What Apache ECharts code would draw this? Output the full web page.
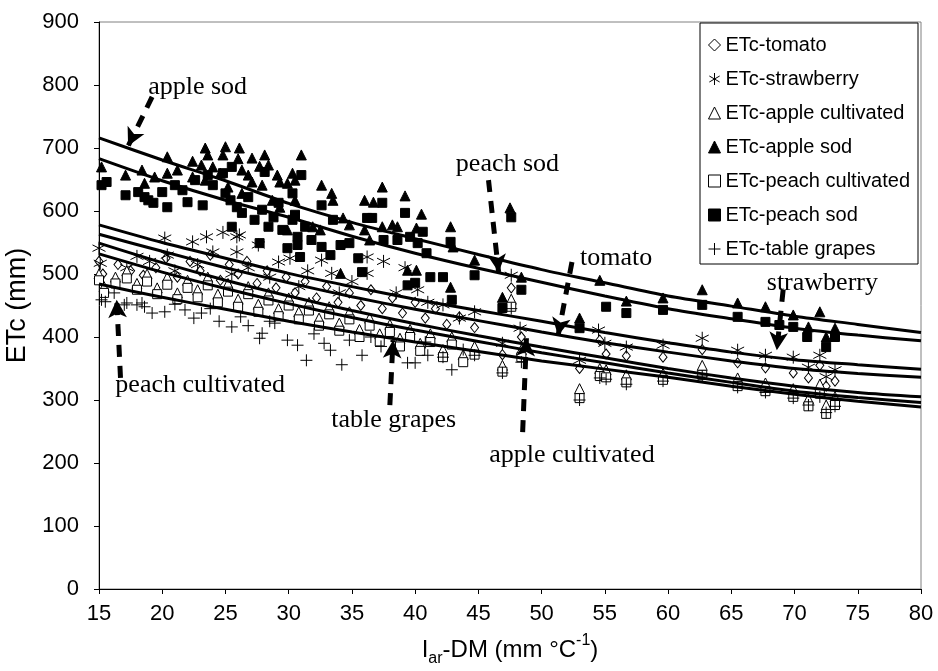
<!DOCTYPE html>
<html>
<head>
<meta charset="utf-8">
<script src="https://cdn.jsdelivr.net/npm/echarts@6/dist/echarts.min.js"></script>
<style>
  html, body { margin: 0; padding: 0; background: #fff; }
  #chart { width: 938px; height: 671px; }
</style>
</head>
<body>
<div id="chart"></div>
<script>
// measured points [I_ar-DM, ETc]
const tomato = [[15.0,520],[15.3,500],[16.5,515],[17.5,505],[18.5,498],[19.5,510],[20.3,525],[21.2,495],[22.2,520],[23.0,505],[23.8,530],[24.6,490],[25.3,515],[26.0,500],[26.7,520],[27.5,485],[28.3,505],[29.0,478],[29.8,495],[30.5,470],[31.3,488],[32.2,462],[33.0,480],[33.9,455],[34.8,470],[35.7,450],[36.5,475],[37.4,445],[38.2,462],[39.0,438],[40.0,455],[40.8,430],[41.6,445],[42.5,420],[43.5,432],[44.7,415],[46.9,372],[47.6,478],[48.4,400],[53.0,350],[54.6,395],[55.1,373],[56.7,370],[59.6,368],[62.7,380],[65.5,359],[67.7,351],[69.9,343],[71.1,335],[72.0,355],[72.5,322],[73.2,330]]
const strawberry = [[15.0,541],[15.1,517],[17.2,510],[18.0,528],[19.0,520],[20.2,557],[20.4,530],[21.0,505],[22.4,551],[22.8,515],[23.5,559],[24.0,535],[24.8,566],[25.5,500],[25.9,559],[25.9,535],[26.1,562],[26.8,510],[27.6,546],[28.5,495],[29.2,519],[30.1,525],[30.8,480],[31.5,505],[32.6,522],[33.4,501],[34.0,470],[35.0,488],[36.2,527],[36.2,501],[37.5,520],[38.5,470],[39.2,510],[40.2,475],[41.0,455],[42.2,451],[43.5,430],[44.7,440],[46.9,390],[47.6,498],[48.3,414],[53.0,363],[54.5,411],[55.0,390],[56.7,384],[59.6,387],[62.7,398],[65.5,379],[67.7,371],[69.9,368],[71.1,352],[72.0,371],[72.5,337],[73.2,348]]
const appleCultivated = [[15.0,500],[15.4,480],[16.3,495],[17.2,505],[18.0,485],[18.8,500],[19.6,478],[20.4,495],[21.2,470],[22.0,490],[22.8,475],[23.6,495],[24.4,468],[25.2,485],[26.0,460],[26.8,480],[27.6,452],[28.4,470],[29.2,445],[30.0,462],[30.8,440],[31.6,455],[32.4,430],[33.2,448],[34.0,422],[34.8,440],[35.6,412],[36.4,430],[37.2,405],[38.0,420],[38.8,398],[39.6,412],[40.4,390],[41.2,405],[42.2,380],[42.9,400],[43.8,372],[44.7,385],[46.9,355],[47.6,460],[48.4,380],[53.0,318],[54.6,350],[55.1,348],[56.7,340],[59.6,342],[62.7,355],[65.5,335],[67.7,327],[69.9,318],[71.1,302],[72.0,325],[72.5,292],[73.2,305]]
const appleSod = [[15.2,670],[17.1,657],[18.4,665],[18.6,644],[19.4,654],[20.4,686],[20.4,660],[21.2,665],[22.4,679],[22.4,654],[23.1,673],[23.4,700],[23.4,649],[23.6,689],[24.0,670],[24.6,660],[24.8,689],[25.0,702],[25.2,638],[26.0,683],[26.1,700],[26.3,665],[26.3,628],[26.8,657],[27.1,684],[27.1,646],[27.7,671],[27.9,641],[28.1,689],[28.4,673],[28.7,617],[29.1,657],[29.3,646],[29.3,606],[29.9,644],[29.9,570],[30.3,660],[30.5,649],[30.5,617],[31.0,689],[31.9,575],[32.5,570],[32.6,641],[33.4,628],[33.5,617],[34.1,501],[34.3,589],[34.8,578],[36.0,617],[36.0,570],[36.4,554],[36.7,614],[37.4,638],[37.4,575],[38.2,578],[38.6,575],[39.2,624],[39.4,506],[40.1,573],[40.1,506],[40.5,595],[42.8,575],[42.8,479],[43.0,543],[44.7,522],[46.9,463],[47.5,605],[48.4,495],[53.0,430],[54.6,490],[56.7,457],[59.6,462],[62.7,475],[65.5,454],[67.7,448],[69.9,435],[71.1,416],[72.0,440],[72.5,400],[73.2,414]]
const peachCultivated = [[15.0,490],[15.4,470],[16.3,485],[17.2,493],[18.0,475],[18.8,488],[19.6,468],[20.4,483],[21.2,460],[22.0,478],[22.8,463],[23.6,482],[24.4,455],[25.2,472],[26.0,448],[26.8,468],[27.6,440],[28.4,458],[29.2,433],[30.0,450],[30.8,428],[31.6,442],[32.4,418],[33.2,436],[34.0,410],[34.8,428],[35.6,400],[36.4,418],[37.2,393],[38.0,408],[38.8,385],[39.6,400],[40.4,378],[41.2,392],[42.2,368],[42.9,388],[43.8,360],[44.7,372],[46.9,345],[47.6,448],[48.4,368],[53.0,303],[54.6,338],[55.1,336],[56.7,328],[59.6,332],[62.7,340],[65.5,322],[67.7,314],[69.9,305],[71.1,290],[72.0,310],[72.5,278],[73.2,292]]
const peachSod = [[15.2,641],[15.6,646],[17.1,625],[18.1,630],[18.6,622],[18.9,617],[19.3,613],[20.0,630],[20.4,606],[21.0,641],[21.6,633],[22.0,614],[22.6,649],[23.2,609],[23.6,657],[24.0,641],[24.8,660],[25.0,628],[25.4,617],[25.5,670],[25.5,575],[25.9,606],[26.3,597],[26.8,622],[27.3,586],[27.7,549],[27.9,602],[28.1,662],[28.4,575],[28.8,590],[29.2,613],[29.5,570],[29.9,541],[30.3,586],[30.3,628],[30.5,594],[30.7,546],[30.7,559],[30.9,527],[31.0,657],[31.3,575],[31.8,554],[32.6,609],[32.6,543],[33.3,530],[33.5,586],[34.1,546],[34.8,549],[35.5,525],[35.8,503],[36.2,589],[36.6,589],[37.4,613],[37.5,554],[38.6,554],[39.2,597],[39.4,482],[39.6,559],[40.0,486],[40.2,549],[40.6,567],[40.9,533],[41.2,495],[42.2,495],[42.8,551],[42.9,459],[44.7,498],[46.9,446],[47.6,590],[48.4,475],[53.0,414],[55.1,448],[56.7,438],[59.6,443],[62.7,451],[65.5,432],[67.7,424],[68.8,419],[69.9,416],[71.0,400],[72.5,384],[73.2,400]]
const tableGrapes = [[15.2,459],[15.5,456],[16.2,470],[17.0,451],[17.2,454],[18.0,451],[18.4,454],[18.6,448],[19.2,438],[20.2,440],[21.0,452],[21.8,443],[22.5,430],[23.1,438],[23.8,445],[24.5,425],[25.5,416],[26.2,432],[26.8,418],[27.7,398],[27.9,406],[28.5,425],[28.9,422],[29.9,395],[30.7,387],[31.4,363],[32.0,405],[32.8,390],[33.3,379],[34.2,356],[34.8,395],[35.8,371],[36.5,400],[37.3,385],[38.2,375],[39.4,359],[40.0,359],[40.8,392],[41.0,371],[42.2,368],[42.9,348],[43.8,380],[44.7,371],[46.9,343],[47.6,445],[48.4,360],[53.0,300],[54.6,335],[55.1,333],[56.7,325],[59.6,330],[62.7,338],[65.5,320],[67.7,312],[69.9,303],[71.1,292],[72.0,305],[72.5,280],[73.2,290]]

// fitted curves read at these x values
const fitX = [15, 20, 25, 30, 35, 40, 45, 50, 55, 60, 65, 70, 75, 80]
const fitAppleSod = [716, 681, 648, 612, 582, 556, 531, 507, 486, 465, 449, 433, 420, 407]
const fitPeachSod = [683, 648, 617, 590, 560, 533, 509, 487, 465, 445, 429, 414, 403, 394]
const fitStrawberry = [578, 550, 525, 501, 480, 460, 442, 425, 407, 391, 376, 364, 356, 349]
const fitTomato = [563, 536, 510, 486, 464, 444, 426, 408, 391, 376, 362, 350, 342, 336]
const fitAppleCultivated = [549, 518, 490, 465, 442, 421, 402, 384, 367, 350, 335, 322, 312, 305]
const fitPeachCultivated = [532, 503, 477, 453, 431, 411, 393, 375, 359, 343, 328, 314, 304, 296]
const fitTableGrapes = [484, 463, 444, 425, 408, 392, 377, 362, 349, 336, 322, 309, 298, 289]

// annotations: label position and arrow [from, to] in data units
const noteNames = ['apple sod', 'peach sod', 'tomato', 'strawberry', 'peach cultivated', 'table grapes', 'apple cultivated']
const notePos = [[22.8, 797], [47.3, 675], [55.9, 525], [72.2, 486], [23.0, 324], [38.3, 268], [52.4, 213]]
const noteArrows = [
  [[19.2, 781], [17.3, 703]],
  [[45.8, 649], [46.6, 503]],
  [[52.4, 519], [51.3, 402]],
  [[69.1, 475], [68.6, 379]],
  [[16.7, 335], [16.4, 459]],
  [[38.0, 292], [38.25, 395]],
  [[48.5, 249], [48.8, 398]]
]

const FONT = 'Liberation Sans, Arial, sans-serif'
const SERIF = 'Liberation Serif, Times New Roman, serif'

const openStyle = { color: '#fff', borderColor: '#000', borderWidth: 1, opacity: 1 }
const fillStyle = { color: '#000', borderColor: '#000', borderWidth: 1, opacity: 1 }
const strokeStyle = { color: 'none', borderColor: '#000', borderWidth: 1, opacity: 1 }

const ASTERISK = 'path://M5,0L5,10M0.7,2.5L9.3,7.5M0.7,7.5L9.3,2.5'
const PLUS = 'path://M5,0L5,10M0,5L10,5'

const scatterDefs = [
  { name: 'ETc-tomato', data: tomato, symbol: 'diamond', size: [8, 10], style: openStyle },
  { name: 'ETc-strawberry', data: strawberry, symbol: ASTERISK, size: 13, style: strokeStyle },
  { name: 'ETc-apple cultivated', data: appleCultivated, symbol: 'triangle', size: 10, style: openStyle },
  { name: 'ETc-apple sod', data: appleSod, symbol: 'triangle', size: 10, style: fillStyle },
  { name: 'ETc-peach cultivated', data: peachCultivated, symbol: 'rect', size: 9, style: openStyle },
  { name: 'ETc-peach sod', data: peachSod, symbol: 'rect', size: 9, style: fillStyle },
  { name: 'ETc-table grapes', data: tableGrapes, symbol: PLUS, size: 12, style: strokeStyle }
]

const fits = [fitAppleSod, fitPeachSod, fitStrawberry, fitTomato, fitAppleCultivated, fitPeachCultivated, fitTableGrapes]

const chart = echarts.init(document.getElementById('chart'))

const series = scatterDefs.map(d => ({
  name: d.name,
  type: 'scatter',
  data: d.data,
  symbol: d.symbol,
  symbolSize: d.size,
  itemStyle: d.style,
  z: 2,
  silent: true
}))

fits.forEach((f, i) => {
  series.push({
    name: 'fit' + i,
    type: 'line',
    data: fitX.map((x, j) => [x, f[j]]),
    smooth: 0.3,
    showSymbol: false,
    symbol: 'none',
    lineStyle: { color: '#000', width: 3 },
    z: 3,
    silent: true
  })
})

series.push({
  name: 'notes',
  type: 'scatter',
  data: noteNames.map((n, i) => ({ name: n, value: notePos[i] })),
  symbolSize: 1,
  itemStyle: { color: 'transparent', opacity: 1 },
  label: {
    show: true,
    position: 'inside',
    formatter: '{b}',
    fontFamily: SERIF,
    fontSize: 26,
    color: '#000',
    opacity: 1
  },
  markLine: {
    silent: true,
    symbol: ['none', 'arrow'],
    symbolSize: [14, 18],
    label: { show: false },
    lineStyle: { color: '#000', width: 5, type: [12, 9], opacity: 1 },
    itemStyle: { color: '#000' },
    data: noteArrows.map(a => [{ coord: a[0] }, { coord: a[1] }])
  },
  z: 5,
  silent: true
})

chart.setOption({
  animation: false,
  textStyle: { fontFamily: FONT },
  grid: {
    left: 99, top: 22, right: 17, bottom: 82,
    outerBoundsMode: 'none',
    show: true, borderColor: '#808080', borderWidth: 1
  },
  graphic: [{
    type: 'rect',
    shape: { x: 700, y: 23, width: 218, height: 241 },
    style: { fill: '#fff', stroke: '#000', lineWidth: 1 },
    z: 10
  }],
  legend: {
    data: scatterDefs.map(d => d.name),
    orient: 'vertical',
    left: 706,
    top: 35,
    padding: 0,
    itemWidth: 12,
    itemHeight: 12,
    itemGap: 14,
    itemStyle: { borderWidth: 1, opacity: 1 },
    textStyle: { fontFamily: FONT, fontSize: 20, lineHeight: 20, color: '#000' },
    z: 11
  },
  xAxis: {
    type: 'value',
    min: 15, max: 80, interval: 5,
    name: '{n|I}{sub|ar}{n|-DM (mm °C}{sup|-1}{n|)}',
    nameLocation: 'middle',
    nameGap: 44,
    nameTextStyle: {
      rich: {
        n: { fontFamily: FONT, fontSize: 24, color: '#000', lineHeight: 34 },
        sub: { fontFamily: FONT, fontSize: 16, color: '#000', lineHeight: 34, verticalAlign: 'bottom', padding: [14, 0, 0, 0] },
        sup: { fontFamily: FONT, fontSize: 16, color: '#000', lineHeight: 34, verticalAlign: 'top', padding: [0, 0, 10, 0] }
      }
    },
    axisLine: { lineStyle: { color: '#000', width: 1 } },
    axisTick: { inside: false, length: 5, lineStyle: { color: '#000' } },
    axisLabel: { fontFamily: FONT, fontSize: 22, color: '#000', margin: 14 },
    splitLine: { show: false }
  },
  yAxis: {
    type: 'value',
    min: 0, max: 900, interval: 100,
    name: 'ETc (mm)',
    nameLocation: 'middle',
    nameGap: 56,
    nameTextStyle: { fontFamily: FONT, fontSize: 27, color: '#000' },
    axisLine: { show: true, lineStyle: { color: '#000', width: 1 } },
    axisTick: { show: true, inside: false, length: 5, lineStyle: { color: '#000' } },
    axisLabel: { fontFamily: FONT, fontSize: 22, color: '#000', margin: 20 },
    splitLine: { show: false }
  },
  series: series
})
</script>
</body>
</html>
